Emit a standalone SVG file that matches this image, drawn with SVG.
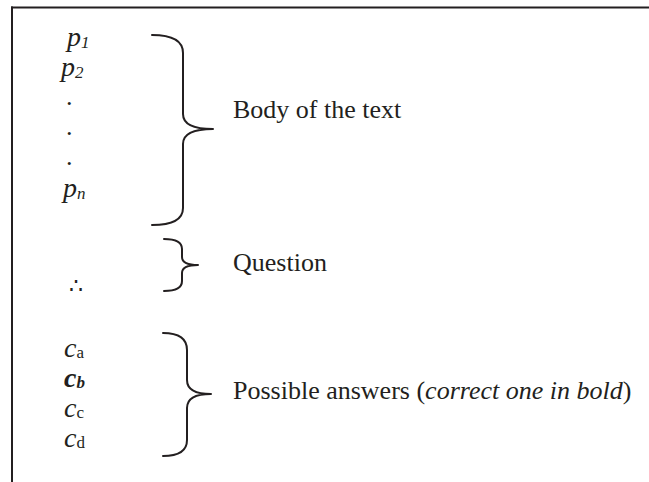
<svg xmlns="http://www.w3.org/2000/svg" width="649" height="482" viewBox="0 0 649 482">
  <style>
    .t { font-family: "Liberation Serif", "Times New Roman", serif; font-size: 26px; fill: #231f20; }
    .sym { font-family: "Liberation Serif", "Times New Roman", serif; font-size: 28px; font-style: italic; fill: #231f20; }
    .sub { font-size: 17px; }
    .brace { fill: none; stroke: #231f20; stroke-width: 2; stroke-linecap: round; stroke-linejoin: round; }
    .frame { stroke: #231f20; stroke-width: 2; fill: none; }
  </style>

  <!-- open frame: top and left edges only -->
  <g id="frame">
    <line class="frame" x1="11" y1="7.5" x2="649" y2="7.5"/>
    <line class="frame" x1="12" y1="6.5" x2="12" y2="482"/>
  </g>

  <!-- premises p1 ... pn -->
  <g id="premises">
    <text class="sym" x="67" y="46">p<tspan class="sub" dy="2">1</tspan></text>
    <text class="sym" x="61" y="76">p<tspan class="sub" dy="2">2</tspan></text>
    <text class="t" x="66" y="105">.</text>
    <text class="t" x="66" y="135">.</text>
    <text class="t" x="66" y="165">.</text>
    <text class="sym" x="63" y="197">p<tspan class="sub" dy="2">n</tspan></text>
  </g>

  <!-- therefore sign -->
  <g id="therefore">
    <text x="69" y="293" style="font-family: 'DejaVu Serif', serif; font-size: 22px; fill: #231f20;">∴</text>
  </g>

  <!-- answer options -->
  <g id="answers">
    <text class="sym" x="64" y="357">c<tspan class="sub" dy="1" font-style="normal">a</tspan></text>
    <text class="sym" x="64" y="387" font-weight="bold">c<tspan class="sub" dy="1">b</tspan></text>
    <text class="sym" x="64" y="417">c<tspan class="sub" dy="1" font-style="normal">c</tspan></text>
    <text class="sym" x="64" y="447">c<tspan class="sub" dy="1" font-style="normal">d</tspan></text>
  </g>

  <!-- curly braces grouping the lines -->
  <g id="connectors">
    <path class="brace" d="M152,35 C172,35 183,40 183,53 L183,114 C183,124 193,129 213,129 C193,129 183,134 183,144 L183,208 C183,220 172,225 152,225"/>
    <path class="brace" d="M164,239 C176,239 182,242 182,249 L182,257 C182,262 188,265 198,265 C188,265 182,268 182,273 L182,281 C182,288 176,291 164,291"/>
    <path class="brace" d="M163,333 C178,333 187,338 187,350 L187,380 C187,390 196,394 211,394 C196,394 187,398 187,408 L187,440 C187,451 178,456 163,456"/>
  </g>

  <g id="body-label">
    <text class="t" x="233" y="118">Body of the text</text>
  </g>
  <g id="question-label">
    <text class="t" x="233" y="271">Question</text>
  </g>
  <g id="answers-label">
    <text class="t" x="233" y="399">Possible answers (<tspan font-style="italic">correct one in bold</tspan>)</text>
  </g>
</svg>
